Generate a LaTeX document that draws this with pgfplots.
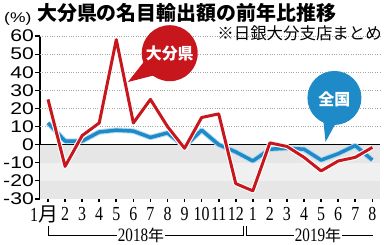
\documentclass[border=0pt]{standalone}
\usepackage{pgfplots}
\pgfplotsset{compat=1.18}
\usepackage{fontspec}
\setmainfont{Liberation Sans}
\newfontfamily\jp{Noto Sans CJK JP}
\newfontfamily\ynum[FakeStretch=1.25]{Liberation Sans}
\newfontfamily\xnum[FakeStretch=0.8]{Liberation Serif}
\definecolor{redc}{HTML}{C8161D}
\definecolor{bluec}{HTML}{1E8BC8}
\definecolor{bluehalo}{HTML}{B5DBF0}
\definecolor{band1}{HTML}{E6E6E6}
\definecolor{band2}{HTML}{F0F0F0}
\pgfplotstableread{
x red blue
0 25 12
1 -12 2
2 5 2
3 12 7
4 58 8
5 12 7.5
6 25 4
7 10 6.5
8 -2 -1
9 15 8
10 17 0
11 -21.5 -4
12 -25.5 -9
13 1 -2.5
14 -1 -2
15 -7 -2.5
16 -14.5 -8.5
17 -9 -5
18 -7 -0.5
19 -1.5 -8.5
}\datatable
\begin{document}
\begin{tikzpicture}[x=1bp,y=1bp]
\useasboundingbox (0,0) rectangle (384,245);
\begin{axis}[
  scale only axis, width=340bp, height=163bp,
  at={(40bp,46bp)}, anchor=south west,
  xmin=-0.47, xmax=19.45, ymin=-30, ymax=60,
  clip=false,
  axis y line*=left, axis x line*=bottom,
  x axis line style={draw=none},
  y axis line style={line width=1.5pt, -},
  tick align=outside,
  ytick={-30,-20,...,60},
  yticklabels={-30,-20,-10,0,10,20,30,40,50,60},
  yticklabel style={font=\ynum\fontsize{17}{17}\selectfont, inner sep=1bp},
  ytick style={black, line width=1.2pt},
  major tick length=5bp,
  xtick={0,...,19},
  xticklabels={\makebox[0pt][r]{1}{\jp 月},2,3,4,5,6,7,8,9,10,11,12,1,2,3,4,5,6,7,8},
  xticklabel style={font=\xnum\fontsize{20}{20}\selectfont, anchor=center, yshift=-10bp, inner sep=0pt},
  xtick style={black, line width=1.6pt, /pgfplots/major tick length=3bp},
]
\fill[band1] (axis cs:-0.47,0) rectangle (axis cs:19.45,-10);
\fill[band2] (axis cs:-0.47,-10) rectangle (axis cs:19.45,-20);
\fill[band1] (axis cs:-0.47,-20) rectangle (axis cs:19.45,-30);
\pgfplotsinvokeforeach{10,20,30,40,50,60}{
  \draw[gray!70, line width=0.7pt, dash pattern=on 0.8pt off 1.6pt] (axis cs:-0.47,#1) -- (axis cs:19.45,#1);
}
\draw[black, line width=1.6pt] (axis cs:-0.47,0) -- (axis cs:19.45,0);
\addplot[bluehalo, line width=5.5pt, line join=round, forget plot] table[x=x, y=blue] {\datatable};
\addplot[bluec, line width=3.5pt, line join=round] table[x=x, y=blue] {\datatable};
\addplot[white, line width=5.2pt, line join=round, forget plot] table[x=x, y=red] {\datatable};
\addplot[redc, line width=3pt, line join=round] table[x=x, y=red] {\datatable};
% red bubble
\fill[redc] ([shift={(198:27bp)}]axis cs:7.13,50.5) -- (axis cs:4.68,34.6) -- ([shift={(235:27bp)}]axis cs:7.13,50.5) -- cycle;
\fill[redc] (axis cs:7.13,50.5) circle[radius=28bp];
\node[white, font=\jp\bfseries\fontsize{16}{16}\selectfont] at (axis cs:7.13,50.5) {大分県};
% blue bubble
\fill[bluec] ([shift={(245:26bp)}]axis cs:16.78,25.8) -- (axis cs:16.26,1.5) -- ([shift={(272:26bp)}]axis cs:16.78,25.8) -- cycle;
\fill[bluec] (axis cs:16.78,25.8) circle[radius=27bp];
\node[white, font=\jp\bfseries\fontsize{16}{16}\selectfont] at (axis cs:16.78,25.2) {全国};
\end{axis}
% titles
\node[anchor=west, inner sep=0pt, font=\jp\bfseries\fontsize{20}{20}\selectfont] at (37,232) {大分県の名目輸出額の前年比推移};
\node[anchor=west, inner sep=0pt, font=\ynum\fontsize{14}{14}\selectfont] at (4,226) {(\%)};
\node[anchor=east, inner sep=0pt, font=\jp\fontsize{16.5}{16.5}\selectfont] at (382,212) {※日銀大分支店まとめ};
% year brackets
\draw[black, line width=0.9pt] (48,19) -- (48,10) -- (243,10) -- (243,19);
\draw[black, line width=0.9pt] (246,19) -- (246,10) -- (373,10);
\node[fill=white, inner sep=1pt, font=\xnum\fontsize{19}{19}\selectfont] at (141,10) {2018{\jp\fontsize{16}{16}\selectfont 年}};
\node[fill=white, inner sep=1pt, font=\xnum\fontsize{19}{19}\selectfont] at (318,10) {2019{\jp\fontsize{16}{16}\selectfont 年}};
\end{tikzpicture}
\end{document}
